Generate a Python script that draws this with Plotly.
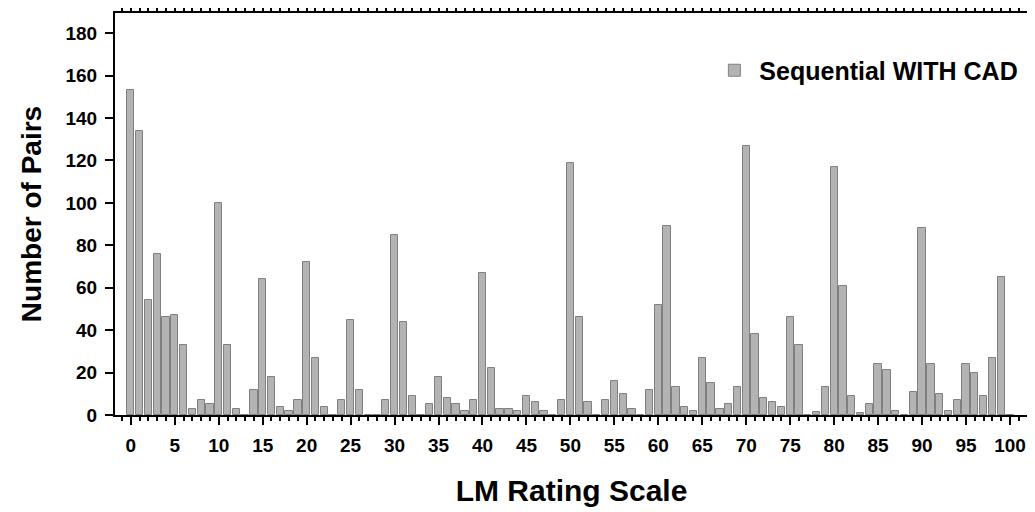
import plotly.graph_objects as go

ratings = list(range(0, 101))
pairs = [
    153, 134, 54, 76, 46, 47, 33, 3, 7, 5,      # 0-9
    100, 33, 3, 0, 12, 64, 18, 4, 2, 7,         # 10-19
    72, 27, 4, 0, 7, 45, 12, 0, 0, 7,           # 20-29
    85, 44, 9, 0, 5, 18, 8, 5, 2, 7,            # 30-39
    67, 22, 3, 3, 2, 9, 6, 2, 0, 7,             # 40-49
    119, 46, 6, 0, 7, 16, 10, 3, 0, 12,         # 50-59
    52, 89, 13, 4, 2, 27, 15, 3, 5, 13,         # 60-69
    127, 38, 8, 6, 4, 46, 33, 0, 1.5, 13,       # 70-79
    117, 61, 9, 1, 5, 24, 21, 2, 0, 11,         # 80-89
    88, 24, 10, 2, 7, 24, 20, 9, 27, 65,        # 90-99
    0,                                          # 100
]
series_name = "Sequential WITH CAD"
x_tick_vals = list(range(0, 101, 5))
y_tick_vals = list(range(0, 181, 20))

FONT = "Liberation Sans, Arial, sans-serif"

fig = go.Figure()
fig.add_trace(go.Bar(
    x=ratings, y=pairs, name=series_name, width=0.83,
    marker=dict(color="#b3b3b3", line=dict(color="#808080", width=1)),
    showlegend=True,
))

# page body has an 8px default margin, so the figure is sized to fit after it
fig.update_layout(
    width=1027, height=504,
    margin=dict(l=107, r=7, t=5, b=97, autoexpand=False),
    paper_bgcolor="white", plot_bgcolor="white",
    font=dict(family=FONT, color="black", size=18, weight="bold"),
    showlegend=True,
    legend=dict(
        x=0.651, y=0.857, xanchor="left", yanchor="middle",
        font=dict(family=FONT, size=25, color="black", weight="bold"),
        bgcolor="rgba(0,0,0,0)", itemwidth=40,
    ),
    bargap=0,
)

fig.update_xaxes(
    range=[-1.8, 102.05], automargin=False,
    tickmode="array", tickvals=x_tick_vals,
    ticks="outside", ticklen=8, tickwidth=2, tickcolor="black",
    showline=True, linewidth=2, linecolor="black", mirror="ticks",
    showgrid=False, zeroline=False,
    tickfont=dict(family=FONT, size=19, color="black", weight="bold"),
    ticklabelstandoff=4,
    minor=dict(dtick=1, tick0=0, ticks="outside", ticklen=4, tickwidth=1.5, tickcolor="black", showgrid=False),
    title=dict(text="LM Rating Scale", font=dict(family=FONT, size=30, color="black", weight="bold"), standoff=25),
)
fig.update_yaxes(
    range=[0, 189.5], automargin=False,
    tickmode="array", tickvals=y_tick_vals,
    ticks="outside", ticklen=8, tickwidth=2, tickcolor="black",
    showline=True, linewidth=2, linecolor="black", mirror="ticks",
    showgrid=False, zeroline=False,
    tickfont=dict(family=FONT, size=19, color="black", weight="bold"),
    ticklabelstandoff=4,
    title=dict(text="Number of Pairs", font=dict(family=FONT, size=28, color="black", weight="bold"), standoff=16),
)

fig.write_html("out.html")
